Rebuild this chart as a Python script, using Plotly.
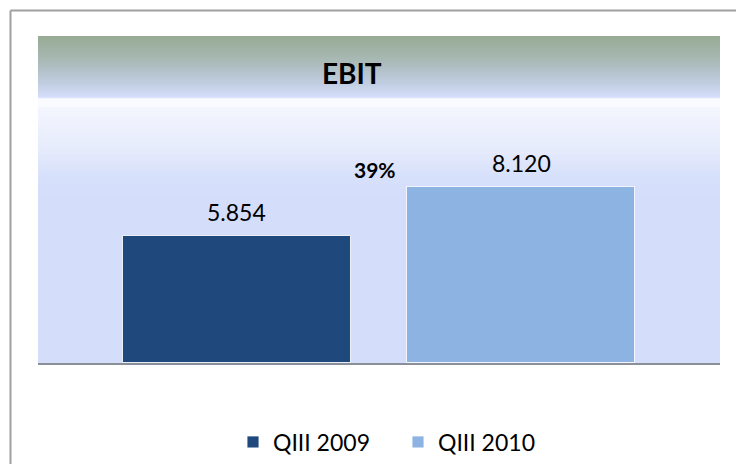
import plotly.graph_objects as go

# Data
categories = ['QIII 2009', 'QIII 2010']
ebit_values = [5854, 8120]
bar_colors = ['#1f497d', '#8db3e2']
title_text = 'EBIT'

growth_pct = round((ebit_values[1] / ebit_values[0] - 1) * 100)

# the page body adds an 8px margin, so the figure is shrunk and shifted by that much
OFF = 8
W, H = 744 - OFF, 464 - OFF
L, R, T, B = 38 - OFF, 24, 36 - OFF, 101
plot_h = H - T - B
plot_w = W - L - R
FONT = 'Lato, Open Sans, sans-serif'


def py(px):
    """window pixel row -> paper y"""
    return (H - B - (px - OFF)) / plot_h


def px_x(px):
    """window pixel column -> paper x"""
    return (px - OFF - L) / plot_w


def hex2rgb(h):
    h = h.lstrip('#')
    return tuple(int(h[i:i + 2], 16) for i in (0, 2, 4))


# background gradient stops (window pixel row, colour)
stops = [(36, '#97ab94'), (60, '#a9b9b5'), (80, '#bccadb'), (97, '#d4defa'),
         (99, '#fafbff'), (106, '#fafbff'), (108, '#f4f6fe'), (150, '#e6ebfc'),
         (178, '#d6e0fb'), (200, '#d4defb')]


def colour_at(p):
    for (p0, c0), (p1, c1) in zip(stops[:-1], stops[1:]):
        if p0 <= p <= p1:
            t = (p - p0) / (p1 - p0) if p1 > p0 else 0
            a, b = hex2rgb(c0), hex2rgb(c1)
            return 'rgb(%d,%d,%d)' % tuple(round(a[i] + (b[i] - a[i]) * t) for i in range(3))
    return stops[-1][1]


shapes = []
for p in range(36, 200):
    shapes.append(dict(type='rect', xref='paper', yref='paper', layer='below',
                       x0=0, x1=1, y0=py(p + 1.2), y1=py(p),
                       fillcolor=colour_at(p + 0.5), line_width=0))

# outer frame (only top and left edges are visible)
shapes.append(dict(type='line', xref='paper', yref='paper', x0=px_x(10.5), x1=px_x(760),
                   y0=py(10.5), y1=py(10.5), line=dict(color='#a0a0a0', width=2)))
shapes.append(dict(type='line', xref='paper', yref='paper', x0=px_x(10.5), x1=px_x(10.5),
                   y0=py(10.5), y1=py(480), line=dict(color='#a0a0a0', width=2)))

fig = go.Figure()
for cat, val, col in zip(categories, ebit_values, bar_colors):
    fig.add_trace(go.Bar(x=[cat], y=[val], name=cat, width=0.8,
                         marker=dict(color=col, line=dict(color='rgba(255,255,255,0.85)', width=1))))

annotations = []
for cat, val in zip(categories, ebit_values):
    annotations.append(dict(x=cat, y=val, text=f'{val:,}'.replace(',', '.'),
                            showarrow=False, yanchor='middle', yshift=24,
                            font=dict(size=23, color='#000000', family=FONT)))
annotations.append(dict(x=0.5, y=ebit_values[1], text=f'<b>{growth_pct}%</b>',
                        showarrow=False, yanchor='middle', yshift=17, xshift=-4,
                        font=dict(size=21, color='#000000', family=FONT)))
annotations.append(dict(x=px_x(352), y=py(73), xref='paper', yref='paper',
                        text=f'<b>{title_text}</b>', showarrow=False,
                        xanchor='center', yanchor='middle',
                        font=dict(size=28, color='#000000', family=FONT)))

fig.update_layout(
    width=W, height=H,
    margin=dict(l=L, r=R, t=T, b=B, autoexpand=False),
    paper_bgcolor='white', plot_bgcolor='#d4defb',
    barmode='overlay', bargap=0,
    showlegend=True,
    legend=dict(orientation='h', x=px_x(233), xanchor='left', y=py(442), yanchor='middle',
                entrywidth=120, entrywidthmode='pixels', itemwidth=30,
                font=dict(size=23, color='#000000', family=FONT), bgcolor='rgba(0,0,0,0)'),
    shapes=shapes, annotations=annotations,
    font=dict(family=FONT),
)
fig.update_xaxes(range=[-0.7, 1.7], showticklabels=False, ticks='', showgrid=False,
                 showline=True, linecolor='#8a8f99', linewidth=2, zeroline=False)
fig.update_yaxes(range=[0, 15070], visible=False, showgrid=False, zeroline=False)

fig.write_html('out.html')
